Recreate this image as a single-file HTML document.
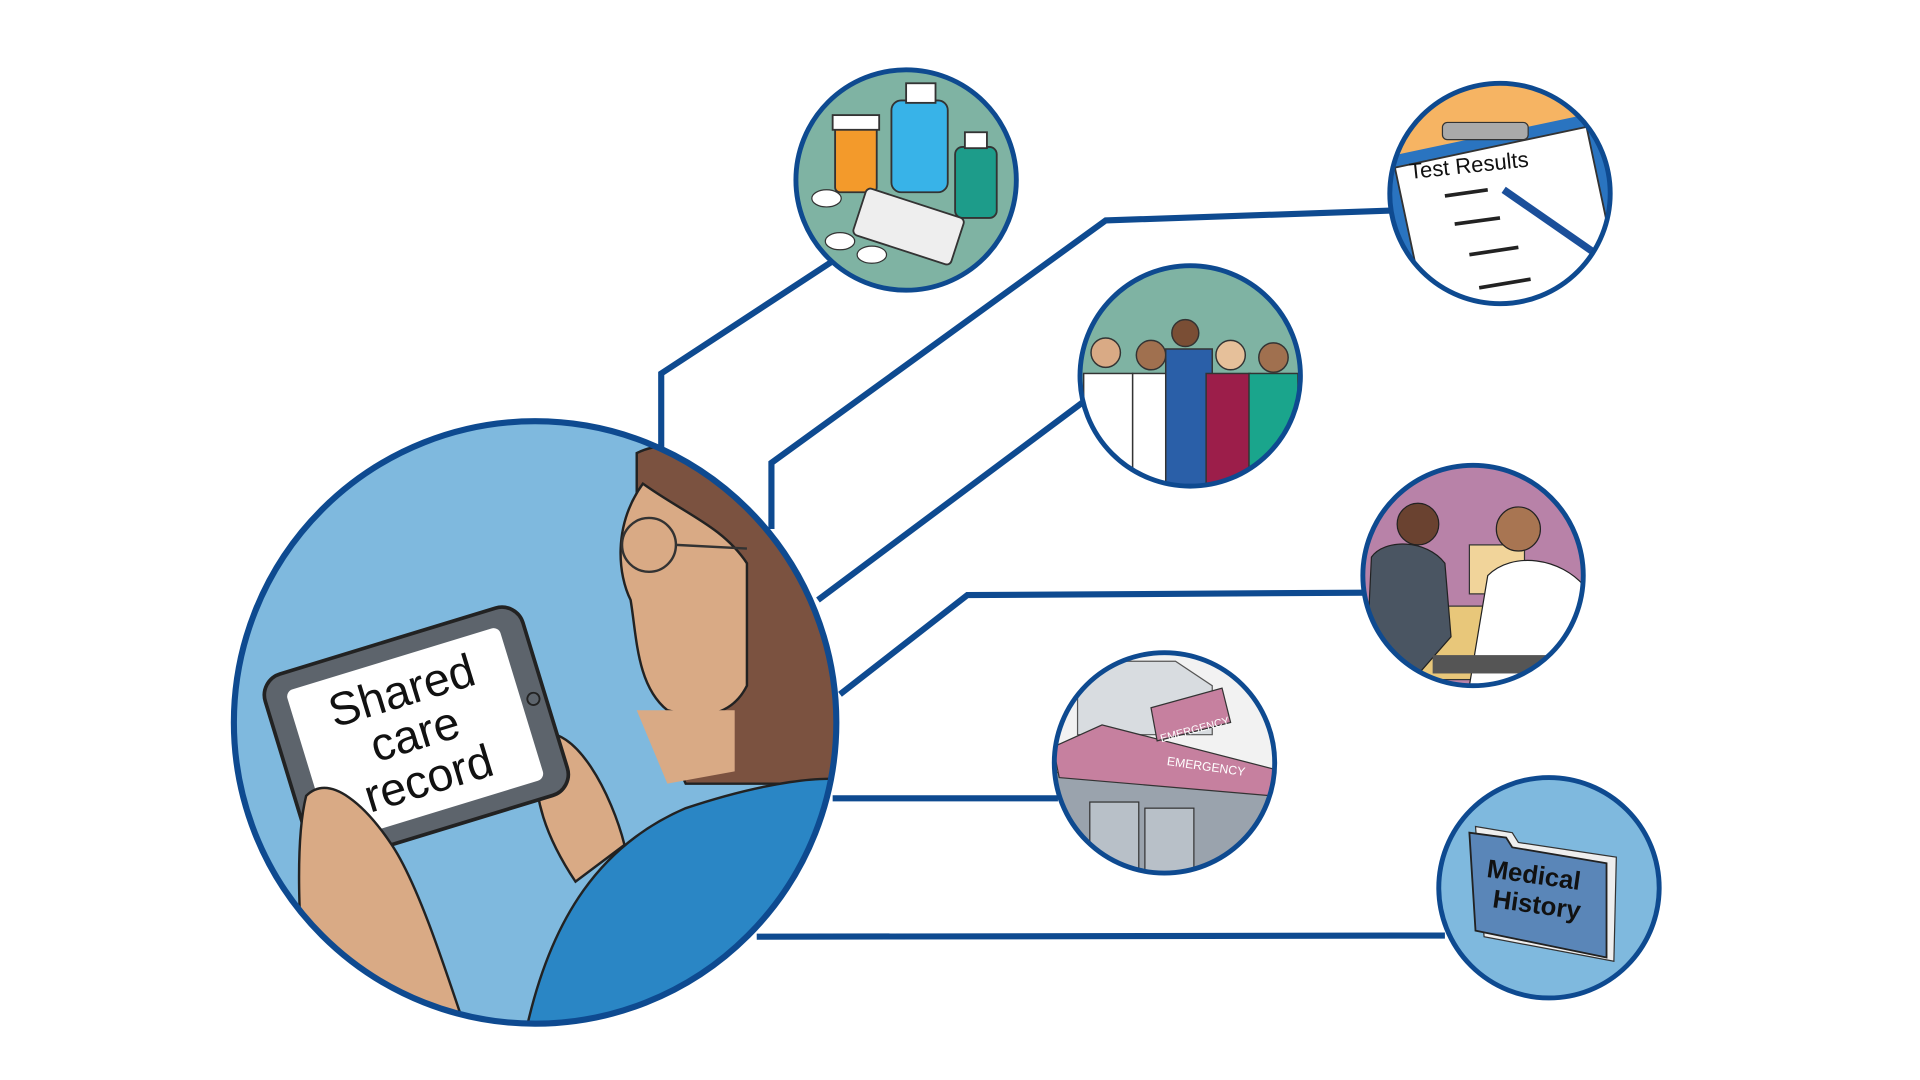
<!DOCTYPE html>
<html><head><meta charset="utf-8"><style>
html,body{margin:0;padding:0;background:#fff;width:1920px;height:1080px;overflow:hidden}
svg{display:block}
</style></head><body>
<svg width="1920" height="1080" viewBox="0 0 1568 882" xmlns="http://www.w3.org/2000/svg">
<defs>
<clipPath id="cm"><circle cx="437" cy="590" r="246"/></clipPath>
<clipPath id="c1"><circle cx="740" cy="147" r="90"/></clipPath>
<clipPath id="c2"><circle cx="1225" cy="158" r="90"/></clipPath>
<clipPath id="c3"><circle cx="972" cy="307" r="90"/></clipPath>
<clipPath id="c4"><circle cx="1203" cy="470" r="90"/></clipPath>
<clipPath id="c5"><circle cx="951" cy="623" r="90"/></clipPath>
<clipPath id="c6"><circle cx="1265" cy="725" r="90"/></clipPath>
</defs>
<g fill="none" stroke="#0e4a90" stroke-width="5" stroke-linejoin="miter">
<polyline points="540,368 540,305 682,212"/>
<polyline points="630,432 630,378 903,180 1136,172"/>
<polyline points="668,490 885,328"/>
<polyline points="686,567 790,486 1116,484"/>
<polyline points="680,652 864,652"/>
<polyline points="618,765 1180,764"/>
</g>
<g clip-path="url(#cm)">
<rect x="180" y="330" width="520" height="520" fill="#7fb9de"/>
<path d="M520,370 C560,350 640,380 660,440 C690,520 690,600 680,640 L560,640 C540,600 560,520 520,470 Z" fill="#7b5240" stroke="#222" stroke-width="2"/>
<path d="M525,395 C500,430 505,470 515,490 C520,520 520,560 545,580 C580,590 600,580 610,560 L610,460 C590,430 560,420 525,395 Z" fill="#d9aa85" stroke="#222" stroke-width="2"/>
<path d="M430,840 C450,750 490,690 560,660 C620,640 680,630 700,640 L700,850 Z" fill="#2a86c5" stroke="#222" stroke-width="2"/>
<path d="M520,580 L545,640 L600,630 L600,580 Z" fill="#d9aa85"/>
<circle cx="530" cy="445" r="22" fill="none" stroke="#333" stroke-width="2"/>
<line x1="552" y1="445" x2="610" y2="448" stroke="#333" stroke-width="2"/>
<path d="M440,600 C470,590 500,650 510,690 L470,720 C450,690 430,650 440,600 Z" fill="#d9aa85" stroke="#222" stroke-width="2"/>
<g transform="rotate(-17 340 600)">
<rect x="230" y="520" width="220" height="160" rx="18" fill="#5d646c" stroke="#222" stroke-width="3"/>
<rect x="248" y="535" width="182" height="130" rx="6" fill="#fff"/>
<circle cx="440" cy="600" r="5" fill="none" stroke="#222" stroke-width="1.5"/>
<text x="339" y="575" font-family="Liberation Sans, sans-serif" font-size="38" text-anchor="middle" fill="#111">Shared</text>
<text x="339" y="612" font-family="Liberation Sans, sans-serif" font-size="38" text-anchor="middle" fill="#111">care</text>
<text x="339" y="650" font-family="Liberation Sans, sans-serif" font-size="38" text-anchor="middle" fill="#111">record</text>
</g>
<path d="M250,650 C270,630 300,660 320,690 C340,720 360,780 380,840 L250,840 C245,760 240,690 250,650 Z" fill="#d9aa85" stroke="#222" stroke-width="2"/>
</g>
<circle cx="437" cy="590" r="246" fill="none" stroke="#0e4a90" stroke-width="5"/>
<g clip-path="url(#c1)">
<rect x="640" y="50" width="200" height="200" fill="#7fb3a3"/>
<rect x="682" y="102" width="34" height="55" rx="4" fill="#f39a2b" stroke="#333" stroke-width="1.5"/>
<rect x="680" y="94" width="38" height="12" fill="#fff" stroke="#333" stroke-width="1.5"/>
<rect x="728" y="82" width="46" height="75" rx="8" fill="#38b3e8" stroke="#333" stroke-width="1.5"/>
<rect x="740" y="68" width="24" height="16" fill="#fff" stroke="#333" stroke-width="1.5"/>
<rect x="780" y="120" width="34" height="58" rx="6" fill="#1d9c8a" stroke="#333" stroke-width="1.5"/>
<rect x="788" y="108" width="18" height="13" fill="#fff" stroke="#333" stroke-width="1.5"/>
<rect x="700" y="165" width="84" height="40" rx="4" fill="#eee" stroke="#333" stroke-width="1.5" transform="rotate(18 742 185)"/>
<ellipse cx="686" cy="197" rx="12" ry="7" fill="#fff" stroke="#333"/>
<ellipse cx="712" cy="208" rx="12" ry="7" fill="#fff" stroke="#333"/>
<ellipse cx="675" cy="162" rx="12" ry="7" fill="#fff" stroke="#333"/>
</g>
<circle cx="740" cy="147" r="90" fill="none" stroke="#0e4a90" stroke-width="4"/>
<g clip-path="url(#c2)">
<rect x="1125" y="60" width="200" height="200" fill="#f6b463"/>
<rect x="1140" y="110" width="180" height="150" fill="#2a74c0" transform="rotate(-12 1225 180)"/>
<rect x="1150" y="120" width="160" height="140" fill="#fff" stroke="#333" stroke-width="1.5" transform="rotate(-12 1225 180)"/>
<rect x="1178" y="100" width="70" height="14" rx="4" fill="#aaa" stroke="#333"/>
<text x="1150" y="140" font-family="Liberation Sans, sans-serif" font-size="18" fill="#111" transform="rotate(-6 1210 130)">Test Results</text>
<g stroke="#222" stroke-width="3"><line x1="1180" y1="160" x2="1215" y2="155"/><line x1="1188" y1="183" x2="1225" y2="178"/><line x1="1200" y1="208" x2="1240" y2="202"/><line x1="1208" y1="235" x2="1250" y2="228"/></g>
<line x1="1228" y1="155" x2="1300" y2="205" stroke="#1b4f9a" stroke-width="6"/>
</g>
<circle cx="1225" cy="158" r="90" fill="none" stroke="#0e4a90" stroke-width="4"/>
<g clip-path="url(#c3)">
<rect x="875" y="210" width="200" height="200" fill="#7fb3a3"/>
<g stroke="#333" stroke-width="1.2">
<rect x="885" y="305" width="40" height="100" fill="#fff"/><circle cx="903" cy="288" r="12" fill="#d9aa85"/>
<rect x="925" y="305" width="40" height="100" fill="#fff"/><circle cx="940" cy="290" r="12" fill="#a0704f"/>
<rect x="952" y="285" width="38" height="120" fill="#2a5fa8"/><circle cx="968" cy="272" r="11" fill="#7a4e35"/>
<rect x="985" y="305" width="36" height="100" fill="#9c1e4a"/><circle cx="1005" cy="290" r="12" fill="#e6c09a"/>
<rect x="1020" y="305" width="40" height="100" fill="#1aa58c"/><circle cx="1040" cy="292" r="12" fill="#a0704f"/>
</g>
</g>
<circle cx="972" cy="307" r="90" fill="none" stroke="#0e4a90" stroke-width="4"/>
<g clip-path="url(#c4)">
<rect x="1110" y="375" width="200" height="200" fill="#b882a8"/>
<rect x="1200" y="445" width="45" height="40" fill="#f1d49a" stroke="#333"/>
<rect x="1140" y="495" width="120" height="60" fill="#e8c77a" stroke="#333"/>
<path d="M1115,560 L1120,455 C1130,440 1165,440 1180,460 L1185,520 L1150,560 Z" fill="#4a5562" stroke="#222"/>
<circle cx="1158" cy="428" r="17" fill="#6a4230" stroke="#222"/>
<path d="M1200,560 L1215,470 C1235,450 1275,455 1295,480 L1300,560 Z" fill="#fff" stroke="#222"/>
<circle cx="1240" cy="432" r="18" fill="#a87552" stroke="#222"/>
<rect x="1170" y="535" width="100" height="15" fill="#555"/>
</g>
<circle cx="1203" cy="470" r="90" fill="none" stroke="#0e4a90" stroke-width="4"/>
<g clip-path="url(#c5)">
<rect x="855" y="530" width="200" height="200" fill="#f2f2f2"/>
<path d="M855,630 L1040,645 L1040,720 L855,720 Z" fill="#9aa3ad" stroke="#333"/>
<path d="M880,540 L960,540 L990,560 L990,600 L880,600 Z" fill="#d8dce0" stroke="#555"/>
<path d="M860,610 L900,592 L1040,628 L1040,650 L865,635 Z" fill="#c6809f" stroke="#333"/>
<path d="M940,578 L998,562 L1005,590 L945,605 Z" fill="#c6809f" stroke="#333"/>
<text x="953" y="630" font-family="Liberation Sans, sans-serif" font-size="10" fill="#fff" transform="rotate(8 990 625)">EMERGENCY</text>
<text x="945" y="600" font-family="Liberation Sans, sans-serif" font-size="9" fill="#fff" transform="rotate(-15 970 590)">EMERGENCY</text>
<g stroke="#333" fill="#b8c0c8"><rect x="890" y="655" width="40" height="60"/><rect x="935" y="660" width="40" height="55"/></g>
</g>
<circle cx="951" cy="623" r="90" fill="none" stroke="#0e4a90" stroke-width="4"/>
<g clip-path="url(#c6)">
<rect x="1170" y="630" width="200" height="200" fill="#7fb9de"/>
<path d="M1205,675 L1235,680 L1240,688 L1320,700 L1318,785 L1212,765 Z" fill="#eee" stroke="#333"/>
<path d="M1200,680 L1230,684 L1235,692 L1312,705 L1312,782 L1205,760 Z" fill="#5a86b8" stroke="#222" stroke-width="1.5"/>
<text x="1212" y="722" font-family="Liberation Sans, sans-serif" font-weight="bold" font-size="21" fill="#111" transform="rotate(8 1255 730)">Medical</text>
<text x="1218" y="746" font-family="Liberation Sans, sans-serif" font-weight="bold" font-size="21" fill="#111" transform="rotate(8 1255 745)">History</text>
</g>
<circle cx="1265" cy="725" r="90" fill="none" stroke="#0e4a90" stroke-width="4"/>
</svg>
</body></html>
